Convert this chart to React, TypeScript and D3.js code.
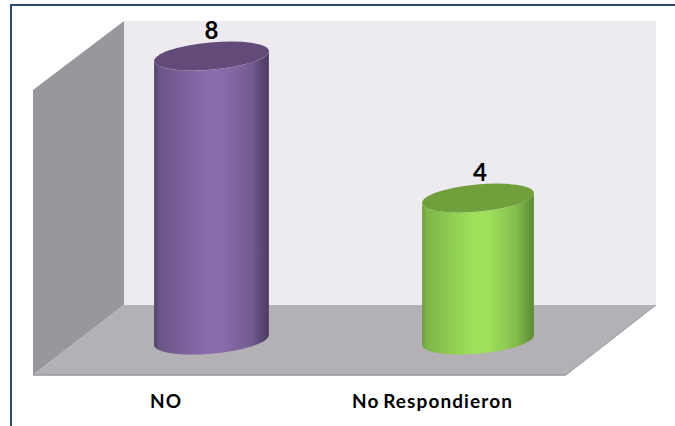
import React from "react";
import * as d3 from "d3";

const categories = ["NO", "No Respondieron"];
const values = [8, 4];
const topColors = ["#634a78", "#709f3c"];
const sideStops = [
  ["#4f3f68", "#6a5486", "#7a609a", "#8a6bab", "#8a6bab", "#735b90", "#4a3b60"],
  ["#6b9c3c", "#7fb648", "#8ccb50", "#9ee05a", "#9ee05a", "#82bb4a", "#5a8a32"],
];
const stopOffsets = [0, 0.04, 0.25, 0.45, 0.6, 0.85, 1];

const W = 675;
const H = 426;

// Box corners of the 3D plot area
const backLeft = 124;
const backRight = 656;
const backTop = 21;
const backBottom = 305;
const frontLeft = 33;
const frontRight = 566;
const frontBottom = 375;
const frontTop = 90;

// Value axis measured along the cylinder centres
const y = d3.scaleLinear().domain([0, 8]).range([340, 56]);
const x = d3.scalePoint<string>().domain(categories).range([211.5, 478]);

// Cap ellipse, tilted by the oblique projection
const tilt = (5.2 * Math.PI) / 180;
const tiltDeg = (-tilt * 180) / Math.PI;
const b = 13.6;
const capRadius = [57.6, 56.1];
const labelShift = [0, 2];

function capGeometry(a: number) {
  const halfW = Math.sqrt(a * a * Math.cos(tilt) ** 2 + b * b * Math.sin(tilt) ** 2);
  const dy = ((a * a - b * b) * Math.sin(tilt) * Math.cos(tilt)) / halfW;
  return { halfW, dy };
}

function cylinderSide(cx: number, top: number, bottom: number, a: number) {
  const { halfW, dy } = capGeometry(a);
  return [
    `M${cx - halfW},${top + dy}`,
    `L${cx - halfW},${bottom + dy}`,
    `A${a},${b} ${tiltDeg} 0 0 ${cx + halfW},${bottom - dy}`,
    `L${cx + halfW},${top - dy}`,
    `A${a},${b} ${tiltDeg} 0 1 ${cx - halfW},${top + dy}`,
    "Z",
  ].join("");
}

const pts = (list: number[][]) => list.map((q) => q.join(",")).join(" ");

export default function App() {
  return (
    <svg
      width={W}
      height={H}
      viewBox={`0 0 ${W} ${H}`}
      style={{ position: "absolute", left: 0, top: 0, background: "#fff" }}
    >
      <defs>
        {sideStops.map((stops, i) => (
          <linearGradient key={i} id={`side-${i}`} x1="0" x2="1" y1="0" y2="0">
            {stops.map((c, j) => (
              <stop key={j} offset={stopOffsets[j]} stopColor={c} />
            ))}
          </linearGradient>
        ))}
      </defs>

      {/* Frame */}
      <path d={`M11,${H} V5 H${W}`} fill="none" stroke="#2b4a6f" strokeWidth={2} />

      {/* Walls and floor */}
      <rect x={backLeft} y={backTop} width={backRight - backLeft} height={backBottom - backTop} fill="#edebf0" />
      <polygon
        points={pts([[frontLeft, frontTop], [backLeft, backTop], [backLeft, backBottom], [frontLeft, frontBottom]])}
        fill="#99979b"
      />
      <polygon
        points={pts([[backLeft, backBottom], [backRight, backBottom], [frontRight, frontBottom], [frontLeft, frontBottom]])}
        fill="#b3b1b5"
      />
      <line x1={frontLeft} x2={frontRight} y1={frontBottom} y2={frontBottom} stroke="#99979b" strokeWidth={1.5} />
      <line x1={frontRight} x2={backRight} y1={frontBottom} y2={backBottom} stroke="#99979b" strokeWidth={1} />

      {/* Cylinders */}
      {categories.map((c, i) => {
        const cx = x(c) as number;
        const top = y(values[i]);
        return (
          <g key={c}>
            <path d={cylinderSide(cx, top, y(0), capRadius[i])} fill={`url(#side-${i})`} />
            <ellipse
              cx={cx}
              cy={top}
              rx={capRadius[i]}
              ry={b}
              fill={topColors[i]}
              transform={`rotate(${tiltDeg} ${cx} ${top})`}
            />
            <text
              x={cx + labelShift[i]}
              y={top - 17.5}
              textAnchor="middle"
              fontFamily="Lato, sans-serif"
              fontWeight={700}
              fontSize={24}
              fill="#000"
            >
              {values[i]}
            </text>
          </g>
        );
      })}

      {/* Category labels */}
      {categories.map((c, i) => (
        <text
          key={c}
          x={[166, 432.5][i]}
          y={407.5}
          textAnchor="middle"
          fontFamily="Lato, sans-serif"
          fontWeight={700}
          fontSize={19}
          letterSpacing={1.1}
          wordSpacing={-2}
          fill="#000"
        >
          {c}
        </text>
      ))}
    </svg>
  );
}
